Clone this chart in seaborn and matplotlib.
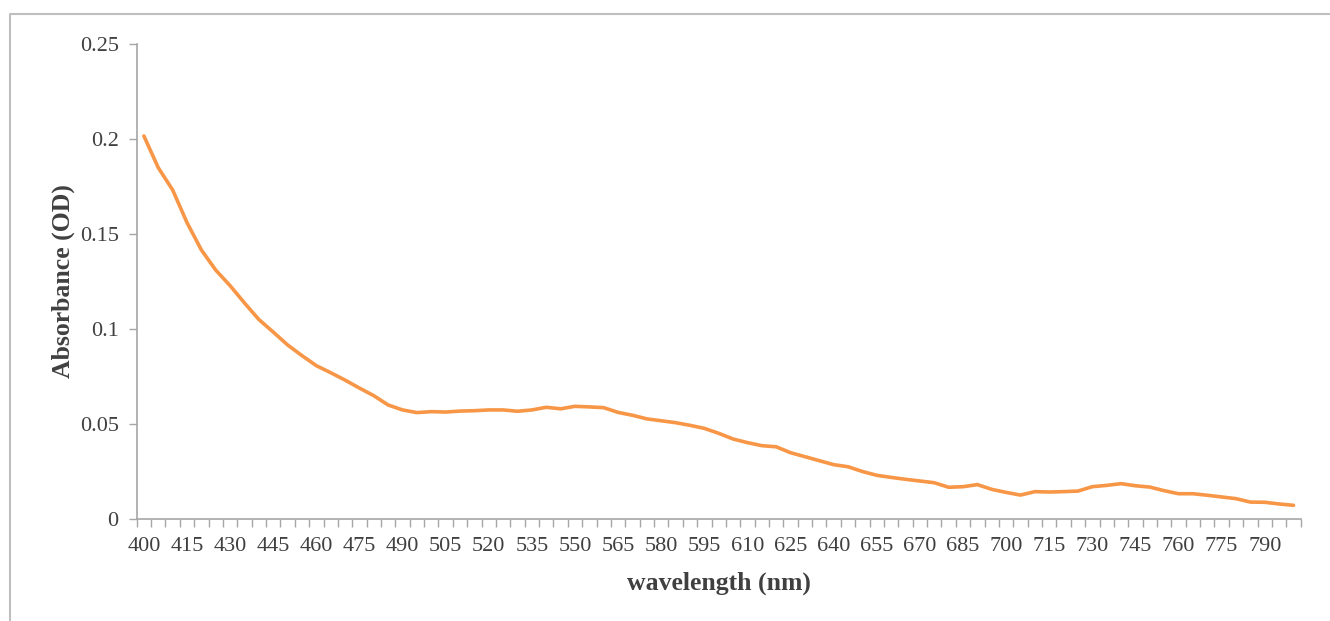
import numpy as np
import pandas as pd
import matplotlib
matplotlib.use("Agg")
import matplotlib.pyplot as plt
from matplotlib.lines import Line2D
import seaborn as sns

# Absorption spectrum, one reading every 5 nm from 400 to 800 nm
wavelength = list(range(400, 805, 5))
absorbance = [
    0.2016, 0.1849, 0.1732, 0.1560, 0.1416, 0.1310, 0.1228, 0.1137, 0.1050, 0.0984,
    0.0916, 0.0860, 0.0807, 0.0770, 0.0731, 0.0689, 0.0649, 0.0600, 0.0574, 0.0560,
    0.0565, 0.0563, 0.0568, 0.0570, 0.0574, 0.0574, 0.0567, 0.0574, 0.0588, 0.0580,
    0.0593, 0.0590, 0.0586, 0.0561, 0.0546, 0.0527, 0.0517, 0.0507, 0.0493, 0.0477,
    0.0451, 0.0421, 0.0402, 0.0386, 0.0380, 0.0349, 0.0328, 0.0307, 0.0286, 0.0275,
    0.0250, 0.0230, 0.0219, 0.0209, 0.0200, 0.0191, 0.0167, 0.0170, 0.0181, 0.0156,
    0.0140, 0.0126, 0.0144, 0.0142, 0.0144, 0.0147, 0.0170, 0.0177, 0.0186, 0.0175,
    0.0168, 0.0149, 0.0133, 0.0133, 0.0125, 0.0116, 0.0107, 0.0089, 0.0088, 0.0079,
    0.0072,
]
y_ticks = [0, 0.05, 0.1, 0.15, 0.2, 0.25]
y_tick_labels = ["0", "0.05", "0.1", "0.15", "0.2", "0.25"]
x_label_step = 3  # label every third category (15 nm)

df = pd.DataFrame({"pos": np.arange(len(wavelength)), "wavelength": wavelength,
                   "absorbance": absorbance})

sns.set_theme(style="white")
plt.rcParams["font.family"] = ["Liberation Serif", "DejaVu Serif"]

W, H = 1330, 621
fig = plt.figure(figsize=(W / 100, H / 100), dpi=100)
ax = fig.add_axes([136.7 / W, 1 - 519 / H, (1300.7 - 136.7) / W, (519 - 44) / H])

sns.lineplot(data=df, x="pos", y="absorbance", ax=ax, color="#F79646",
             linewidth=2.6, solid_joinstyle="round", solid_capstyle="round")

text_color = "#404040"
spine_color = "#A6A6A6"

n = len(wavelength)
ax.set_xlim(-0.5, n - 0.5)
ax.set_ylim(0, 0.25)

# category labels without ticks; tick marks sit between categories
label_pos = np.arange(0, n, x_label_step)
ax.set_xticks(label_pos)
ax.set_xticklabels([str(wavelength[i]) for i in label_pos])
ax.set_xticks(np.arange(-0.5, n, 1), minor=True)
ax.tick_params(axis="x", which="major", length=0, pad=13, labelsize=16,
               labelcolor=text_color)
ax.tick_params(axis="x", which="minor", length=6, width=1, color=spine_color,
               direction="out", bottom=True)

ax.set_yticks(y_ticks)
ax.set_yticklabels(y_tick_labels)
ax.tick_params(axis="y", which="major", length=6, width=1, color=spine_color,
               direction="out", left=True, pad=7, labelsize=16, labelcolor=text_color)

for side in ("top", "right"):
    ax.spines[side].set_visible(False)
for side in ("left", "bottom"):
    ax.spines[side].set_color(spine_color)
    ax.spines[side].set_linewidth(1.2)

ax.set_xlabel("wavelength (nm)", fontsize=18.5, fontweight="bold", color=text_color,
              labelpad=11)
ax.set_ylabel("Absorbance (OD)", fontsize=18.5, fontweight="bold", color=text_color,
              labelpad=3)

# chart frame (top and left edges)
fig.add_artist(Line2D([9.5 / W, 9.5 / W, 1.0], [0.0, 1 - 13.5 / H, 1 - 13.5 / H],
                      transform=fig.transFigure, color="#BFBFBF", linewidth=1.5))

fig.savefig("out.png", dpi=100, facecolor="white")
